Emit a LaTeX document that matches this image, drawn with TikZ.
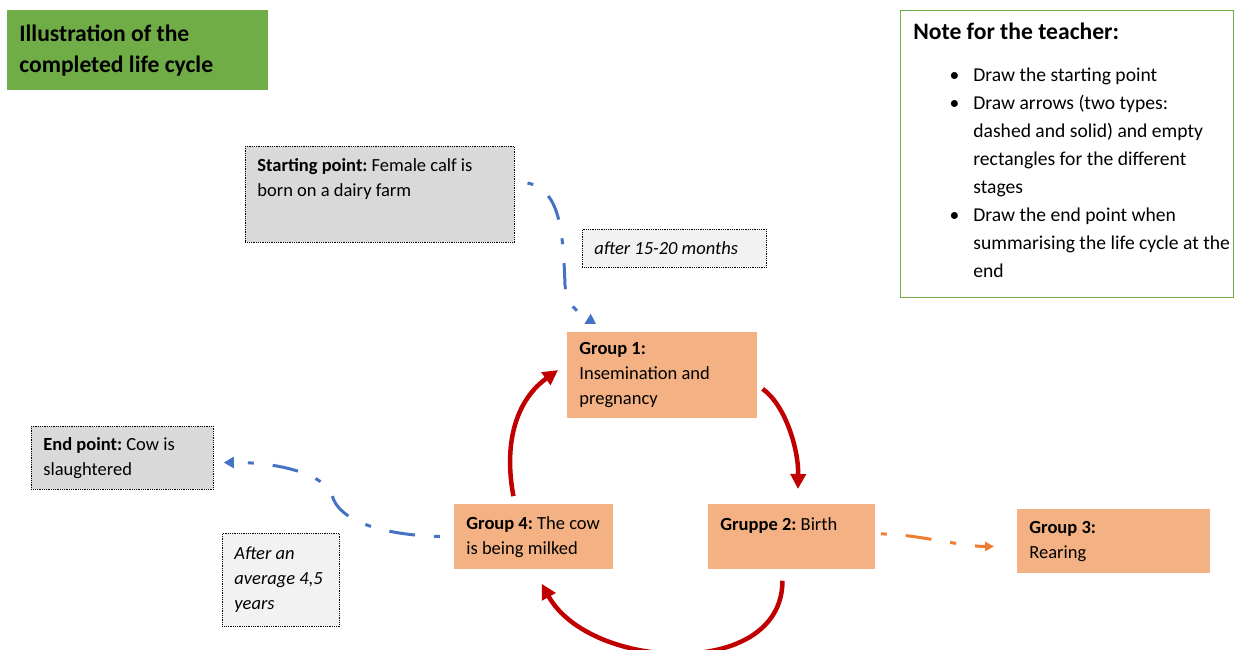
\documentclass[tikz,border=0pt]{standalone}
\usepackage{fontspec}
\setmainfont{Carlito}
\usetikzlibrary{arrows.meta}

\definecolor{titlegreen}{RGB}{112,173,71}
\definecolor{stageorange}{RGB}{244,177,131}
\definecolor{pointgray}{RGB}{217,217,217}
\definecolor{timegray}{RGB}{242,242,242}
\definecolor{cyclered}{RGB}{192,0,0}
\definecolor{lineblue}{RGB}{68,114,196}
\definecolor{lineorange}{RGB}{237,125,49}

\newcommand{\boxfont}{\fontsize{18.5}{25}\selectfont\frenchspacing}
\newcommand{\headfont}{\fontsize{23.6}{31}\selectfont\bfseries\frenchspacing}
\newcommand{\notefont}{\fontsize{19.6}{28}\selectfont\frenchspacing}
\newcommand{\noteitem}[1]{\par\noindent\hangindent=60pt\hangafter=0\llap{\textbullet\hspace{14pt}}#1\par}

\tikzset{every picture/.style={line width=0.75pt},
  stagebox/.style={fill=stageorange, anchor=north west, align=flush left, inner xsep=12pt, inner ysep=0pt, font=\boxfont},
  pointbox/.style={stagebox, fill=pointgray, draw=black, densely dotted, line width=0.8pt},
  timebox/.style={pointbox, fill=timegray, font=\boxfont\itshape},
  titlebox/.style={stagebox, fill=titlegreen, font=\headfont},
  notebox/.style={draw=titlegreen, fill=white, line width=1.3pt, anchor=north west, inner sep=0pt},
  notetext/.style={align=flush left, inner sep=0pt, font=\notefont},
  cyclearrow/.style={draw=cyclered, line width=4.5pt, -{Triangle[length=15pt,width=15pt]}},
  timearrow/.style={draw=#1, line width=3pt, dash pattern=on 6pt off 19pt on 26pt off 19pt, -{Triangle[length=10pt,width=11pt]}}
}

\begin{document}
\begin{tikzpicture}[x=1pt,y=1pt,yscale=-1,xscale=1]
\useasboundingbox (0,0) rectangle (1234,650);

% Title and note
\node[titlebox, text width=237, minimum height=80] (title) at (7,10) {Illustration of the\\completed life cycle};
\node[notebox, minimum width=333, minimum height=287] (note) at (900,10) {};
\node[notetext, text width=318, anchor=base west] (notetxt) at (913,40) {%
{\headfont Note for the teacher:}\par\vspace{14pt}%
\noteitem{Draw the starting point}%
\noteitem{Draw arrows (two types:\newline dashed and solid) and empty\newline rectangles for the different\newline stages}%
\noteitem{Draw the end point when\newline summarising the life cycle at the\newline end}};

% Start and end points
\node[pointbox, text width=245, minimum height=96] (start) at (245,146) {\textbf{Starting point:} Female calf is\\born on a dairy farm\\[8pt]\mbox{}};
\node[timebox, text width=160, minimum height=38] (months) at (582,229) {after 15-20 months};
\node[pointbox, text width=158, minimum height=63] (endp) at (31,426) {\textbf{End point:} Cow is\\slaughtered};
\node[timebox, text width=93, minimum height=93] (years) at (222,533) {After an\\average 4,5\\years};

% Groups
\node[stagebox, text width=166, minimum height=86] (g1) at (567,332) {\textbf{Group 1:}\\Insemination and\\pregnancy};
\node[stagebox, text width=143, minimum height=65] (g2) at (708,504) {\textbf{Gruppe 2:} Birth\\\mbox{}};
\node[stagebox, text width=169, minimum height=64] (g3) at (1017,509) {\textbf{Group 3:}\\Rearing};
\node[stagebox, text width=135, minimum height=65] (g4) at (454,504) {\textbf{Group 4:} The cow\\is being milked};

% Cycle
\draw[cyclearrow, shorten <=6pt, shorten >=15pt] (g1.-6) .. controls +(28,20) and +(1,-54) .. (g2.80);
\draw[cyclearrow, shorten <=11pt, shorten >=16pt] (g2.-106) .. controls +(0,111) and +(56,101) .. (g4.south);
\draw[cyclearrow, shorten <=8pt, shorten >=11pt] (g4.120) .. controls +(-12,-64) and +(-49,35) .. (g1.173);

% Dashed arrows
\draw[timearrow=lineblue, shorten <=13pt, shorten >=15pt] (start.6) .. controls (560,190) and (563,230) .. (565,285) .. controls (566,300) and (572,309) .. (g1.141);
\draw[timearrow=lineblue, shorten <=14pt, shorten >=10pt] (g4.west) .. controls (380,535) and (338,520) .. (332,495) .. controls (325,475) and (280,462) .. (endp.-3);
\draw[timearrow=lineorange, shorten <=5pt, shorten >=23pt, -{Triangle[length=9pt,width=9pt]}] (g2.2) .. controls +(40,0) and +(-57,0) .. (g3.183);

\end{tikzpicture}
\end{document}
